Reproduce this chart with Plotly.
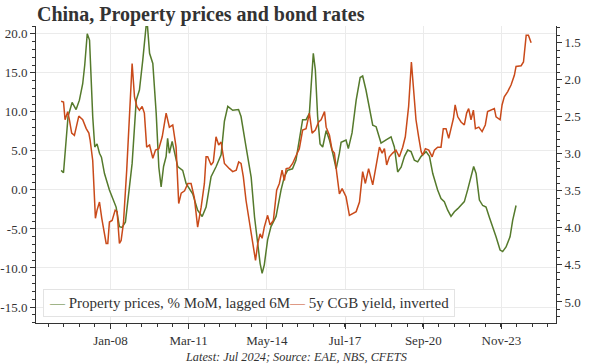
import plotly.graph_objects as go

# Property prices, % MoM, lagged 6M (left axis)
prop_dates = ["2006-01-01","2006-02-05","2006-04-13","2006-06-12","2006-08-10","2006-09-28","2006-11-16","2006-12-16",
"2007-01-22","2007-02-25","2007-04-13","2007-05-13","2007-06-16","2007-07-22","2007-08-20","2007-10-04","2007-12-16",
"2008-03-24","2008-05-12","2008-06-21","2008-08-09","2008-10-07","2008-11-16","2009-01-16","2009-03-04","2009-04-22",
"2009-06-22","2009-08-01","2009-09-18","2009-11-07","2009-12-16","2010-01-19","2010-02-24","2010-04-03","2010-04-25",
"2010-05-21","2010-07-01","2010-08-03","2010-09-21","2010-12-04","2011-01-24","2011-05-01","2011-07-13","2011-09-18",
"2011-11-15","2012-01-28","2012-04-12","2012-06-24","2012-08-12","2012-10-01","2012-12-13","2013-03-09","2013-04-15",
"2013-06-28","2013-09-12","2013-11-01","2013-12-19","2014-01-22","2014-02-21","2014-03-25","2014-05-13","2014-07-02",
"2014-09-15","2014-11-28","2015-01-16","2015-03-04","2015-05-16","2015-07-06","2015-08-25","2015-10-13","2015-12-03",
"2016-01-21","2016-02-15","2016-03-19","2016-04-18","2016-05-22","2016-06-27","2016-08-05","2016-09-25","2016-11-13",
"2017-01-01","2017-02-20","2017-04-09","2017-05-04","2017-07-16","2017-08-19","2017-10-13","2017-12-13","2018-02-10",
"2018-03-19","2018-05-07","2018-06-27","2018-08-15","2018-10-04","2018-12-16","2019-03-01","2019-05-13","2019-07-01",
"2019-08-19","2019-10-09","2019-11-28","2020-01-15","2020-03-04","2020-04-22","2020-06-10","2020-07-31","2020-10-12",
"2020-12-01","2021-01-19","2021-04-01","2021-05-21","2021-07-09","2021-08-28","2021-10-16","2021-12-05","2022-01-24",
"2022-03-13","2022-05-01","2022-06-19","2022-08-08","2022-09-16","2022-10-22","2022-12-10","2023-01-28","2023-03-18",
"2023-05-06","2023-06-24","2023-08-13","2023-10-12","2023-11-19","2024-01-08","2024-03-07","2024-04-15","2024-06-04"]
prop_values = [2.5,2.2,9.4,11.2,10.3,11.5,13.6,16.0,
20.0,19.2,9.4,5.5,5.9,4.7,4.2,2.1,0.0,
-2.2,-4.7,-4.8,-4.1,0.8,3.4,11.5,12.8,16.6,
22.0,17.5,16.2,9.8,2.9,0.4,3.0,4.3,6.6,
4.7,6.2,4.9,3.0,2.5,0.8,-0.5,-2.6,-3.4,
-2.2,1.7,3.0,4.5,8.8,10.7,10.2,10.3,9.4,
5.5,1.6,-3.5,-7.3,-9.4,-10.7,-9.6,-6.4,-4.7,
-3.4,0.0,1.7,2.5,2.7,3.8,6.4,9.0,9.0,
9.8,13.2,17.5,15.4,9.4,5.9,5.5,7.6,6.4,
4.7,2.7,4.7,6.1,6.4,5.3,7.3,11.5,14.4,
14.6,12.8,10.7,8.3,8.1,6.0,6.4,6.8,5.5,
2.3,2.9,4.3,5.1,4.9,3.8,3.6,4.3,4.9,
4.3,2.1,0.0,-1.1,-1.5,-2.6,-3.4,-2.8,-2.4,
-2.0,-1.5,0.0,1.7,3.0,2.1,-1.3,-2.0,-2.2,
-3.5,-4.9,-6.0,-7.7,-7.9,-7.3,-6.0,-3.9,-2.0]

# 5y CGB yield, inverted (right axis)
cgb_dates = ["2006-01-01","2006-02-05","2006-02-28","2006-04-08","2006-05-03","2006-06-06","2006-07-16","2006-09-19",
"2006-11-16","2007-01-07","2007-02-15","2007-03-05","2007-04-13","2007-05-23","2007-06-16","2007-07-22","2007-08-25",
"2007-10-04","2007-10-29","2007-11-22","2007-12-16","2008-01-25","2008-03-10","2008-04-08","2008-05-12","2008-06-06",
"2008-07-10","2008-08-28","2008-10-07","2008-11-16","2008-12-21","2009-01-25","2009-03-04","2009-04-13","2009-05-16",
"2009-06-19","2009-08-01","2009-09-18","2009-10-28","2009-12-16","2010-02-04","2010-04-03","2010-05-21","2010-07-10",
"2010-08-28","2010-09-22","2010-10-06","2010-11-12","2011-01-01","2011-02-18","2011-04-07","2011-05-25","2011-07-13",
"2011-09-03","2011-10-21","2011-11-15","2011-12-09","2012-01-28","2012-03-01","2012-04-10","2012-05-19","2012-06-24",
"2012-08-12","2012-10-25","2012-12-13","2013-02-03","2013-03-11","2013-04-15","2013-05-19","2013-06-28","2013-08-06",
"2013-09-12","2013-10-16","2013-11-15","2013-12-19","2014-01-22","2014-02-21","2014-03-25","2014-05-13","2014-06-18",
"2014-08-06","2014-09-24","2014-11-03","2014-12-13","2015-01-16","2015-02-12","2015-04-01","2015-05-18","2015-07-06",
"2015-08-25","2015-10-13","2015-12-03","2016-01-21","2016-03-01","2016-04-18","2016-06-06","2016-07-12","2016-09-01",
"2016-09-25","2016-11-13","2016-12-22","2017-01-25","2017-03-01","2017-04-09","2017-05-19","2017-07-16","2017-09-04",
"2017-10-22","2017-12-13","2018-01-31","2018-03-19","2018-04-28","2018-06-15","2018-08-15","2018-10-04","2018-11-22",
"2019-01-01","2019-02-04","2019-03-09","2019-04-18","2019-06-06","2019-07-25","2019-09-13","2019-11-01","2019-12-10",
"2020-01-28","2020-03-09","2020-04-07","2020-05-16","2020-06-24","2020-07-31","2020-08-22","2020-10-02","2020-11-21",
"2021-01-10","2021-02-12","2021-04-01","2021-05-21","2021-06-24","2021-08-03","2021-09-12","2021-10-16","2021-11-21",
"2021-12-16","2022-01-24","2022-03-13","2022-05-01","2022-06-04","2022-07-04","2022-08-08","2022-09-12","2022-10-12",
"2022-12-01","2023-01-19","2023-03-07","2023-04-10","2023-06-01","2023-07-19","2023-08-13","2023-10-12","2023-11-10",
"2023-12-13","2024-02-02","2024-03-22","2024-05-10","2024-06-04","2024-08-18","2024-09-22","2024-11-01","2024-12-04",
"2025-01-13"]
cgb_values = [2.29,2.30,2.54,2.43,2.54,2.72,2.75,2.49,
2.54,2.66,2.72,2.81,3.09,3.87,3.76,3.65,3.87,
4.08,4.21,4.21,3.92,3.90,3.76,3.78,4.21,4.17,
3.94,3.22,2.54,1.78,2.23,2.36,2.41,2.36,2.45,
2.91,2.88,3.06,2.95,2.93,2.77,2.45,2.64,2.61,
2.91,3.36,3.67,3.53,3.50,3.40,3.40,3.59,3.99,
3.72,3.40,3.04,3.04,3.15,3.11,2.77,2.88,2.84,
3.13,3.20,3.24,3.22,3.11,3.13,3.31,3.63,3.87,
4.08,4.26,4.44,4.21,4.08,4.14,3.99,3.83,3.96,
3.90,3.49,3.40,3.22,3.36,3.20,3.19,3.13,3.03,
2.93,2.68,2.66,2.45,2.72,2.68,2.57,2.54,2.43,
2.64,2.75,2.95,2.99,3.26,3.54,3.47,3.58,3.83,
3.81,3.78,3.65,3.24,3.40,3.20,3.42,3.13,2.91,
2.99,2.93,3.15,3.04,2.99,2.95,3.04,2.91,2.77,
2.36,1.76,2.09,2.54,2.77,2.97,3.02,2.93,2.95,
3.04,2.95,2.91,2.91,2.66,2.66,2.79,2.66,2.52,
2.34,2.50,2.57,2.61,2.45,2.39,2.54,2.41,2.66,
2.64,2.70,2.61,2.43,2.41,2.39,2.50,2.54,2.34,
2.23,2.16,2.07,1.94,1.82,1.81,1.76,1.40,1.40,
1.50]

left_ticks = [-15, -10, -5, 0, 5, 10, 15, 20]
left_ticktext = ["-15.0", "-10.0", "-5.0", "0.0", "5.0", "10.0", "15.0", "20.0"]
right_ticks = [1.5, 2.0, 2.5, 3.0, 3.5, 4.0, 4.5, 5.0]
right_ticktext = ["1.5", "2.0", "2.5", "3.0", "3.5", "4.0", "4.5", "5.0"]

GREEN = "#557a2c"
ORANGE = "#c94a1a"
INK = "#333333"
FONT = "Liberation Serif"

fig = go.Figure()
fig.add_trace(go.Scatter(x=prop_dates, y=prop_values, mode="lines", yaxis="y",
                         line=dict(color=GREEN, width=1.5), showlegend=False, hoverinfo="skip"))
fig.add_trace(go.Scatter(x=cgb_dates, y=cgb_values, mode="lines", yaxis="y2",
                         line=dict(color=ORANGE, width=1.5), showlegend=False, hoverinfo="skip"))

fig.update_layout(
    width=600, height=364,
    margin=dict(l=36, r=44, t=26, b=41, autoexpand=False),
    paper_bgcolor="white", plot_bgcolor="white",
    font=dict(family=FONT, color=INK, size=13),
    title=dict(text="<b>China, Property prices and bond rates</b>", x=37/600, xanchor="left",
               y=1-14/364, yanchor="middle", font=dict(family=FONT, size=20, color=INK)),
    xaxis=dict(type="date", range=["2004-12-25", "2026-01-16"], automargin=False,
               tickmode="linear", tick0="2008-01-01", dtick="M38", tickformat="%b-%y",
               ticks="outside", ticklen=5, tickcolor=INK, tickfont=dict(size=13, color=INK),
               showline=True, linecolor=INK, linewidth=1,
               showgrid=True, gridcolor="#ebebeb", gridwidth=1, zeroline=False,
               minor=dict(ticks="outside", ticklen=3, tickcolor=INK, tick0="2008-01-01",
                          dtick=19958400000, showgrid=False)),
    yaxis=dict(range=[-17.05, 21.0], automargin=False,
               tickmode="array", tickvals=left_ticks, ticktext=left_ticktext,
               ticks="outside", ticklen=5, tickcolor=INK, tickfont=dict(size=13, color=INK),
               showline=True, linecolor=INK, linewidth=1,
               showgrid=True, gridcolor="#ebebeb", gridwidth=1, zeroline=False,
               minor=dict(ticks="outside", ticklen=3, tickcolor=INK, tickmode="linear",
                          tick0=0, dtick=1, showgrid=False)),
    yaxis2=dict(range=[5.284, 1.274], overlaying="y", side="right", automargin=False,
                tickmode="array", tickvals=right_ticks, ticktext=right_ticktext,
                ticks="outside", ticklen=5, tickcolor=INK, tickfont=dict(size=13, color=INK),
                showline=True, linecolor=INK, linewidth=1, showgrid=False, zeroline=False,
                minor=dict(ticks="outside", ticklen=3, tickcolor=INK, tickmode="linear",
                           tick0=0, dtick=0.1, showgrid=False)),
)

legend_text = (f"<span style='color:{GREEN}'>—</span> Property prices, % MoM, lagged 6M"
               f"<span style='color:{ORANGE}'>—</span> 5y CGB yield, inverted")
fig.add_annotation(text=legend_text, xref="paper", yref="paper",
                   x=(43-36)/520, y=(322.7-302.8)/296.7, xanchor="left", yanchor="middle",
                   showarrow=False, font=dict(family=FONT, size=15, color=INK),
                   bgcolor="white", bordercolor="#e3e3e3", borderwidth=1, borderpad=5)

fig.add_annotation(text="<i>Latest: Jul 2024; Source: EAE, NBS, CFETS</i>", xref="paper", yref="paper",
                   x=0.5, y=-(357-322.7)/296.7, xanchor="center", yanchor="middle",
                   showarrow=False, font=dict(family=FONT, size=12.3, color=INK))

fig.write_html("out.html", config={"displayModeBar": False, "staticPlot": True},
               post_script="document.body.style.margin='0';document.body.style.overflow='hidden';")
